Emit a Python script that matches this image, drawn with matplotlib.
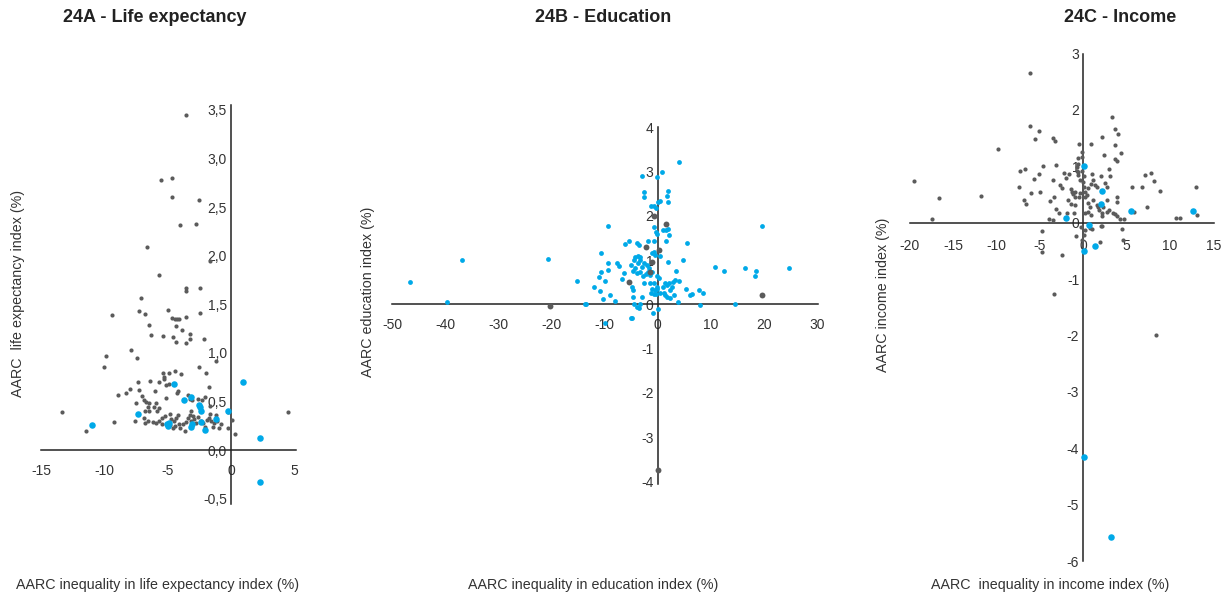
import matplotlib
matplotlib.use("Agg")
import matplotlib.pyplot as plt
import numpy as np

plt.rcParams['font.family'] = ['Liberation Sans', 'DejaVu Sans']
plt.rcParams['axes.unicode_minus'] = False

GRAY = '#5b5b5b'
BLUE = '#00a9e8'

# 24A - life expectancy: (AARC inequality, AARC index)
life_gray = np.array([
    (-3.55, 3.45), (-5.55, 2.78), (-4.63, 2.80), (-4.66, 2.60), (-2.53, 2.57), (-4.03, 2.32),
    (-2.76, 2.33), (-6.66, 2.09), (-1.66, 1.94), (-5.71, 1.80), (-3.55, 1.67), (-3.55, 1.64),
    (-2.42, 1.67), (-7.10, 1.56), (-9.42, 1.39), (-7.26, 1.43), (-6.79, 1.40), (-4.97, 1.44),
    (-4.66, 1.36), (-4.45, 1.35), (-4.25, 1.35), (-4.13, 1.35), (-3.55, 1.37), (-2.45, 1.41),
    (-6.45, 1.29), (-4.34, 1.28), (-3.90, 1.23), (-6.30, 1.18), (-5.34, 1.17), (-4.55, 1.16),
    (-3.20, 1.19), (-3.22, 1.14), (-4.37, 1.11), (-3.55, 1.10), (-2.13, 1.14), (-7.87, 1.03),
    (-7.42, 0.95), (-9.90, 0.97), (-10.05, 0.85), (-1.16, 0.92), (-2.50, 0.85), (-1.95, 0.79),
    (-5.33, 0.79), (-4.93, 0.79), (-4.41, 0.81), (-3.96, 0.78), (-5.28, 0.75), (-5.28, 0.73),
    (-7.34, 0.70), (-6.36, 0.71), (-5.70, 0.70), (-5.15, 0.67), (-4.93, 0.68), (-1.74, 0.65),
    (-7.97, 0.63), (-8.28, 0.59), (-8.92, 0.57), (-7.23, 0.62), (-6.04, 0.61), (-4.20, 0.61),
    (-4.28, 0.59), (-7.04, 0.56), (-6.90, 0.51), (-6.70, 0.49), (-6.44, 0.48), (-7.47, 0.48),
    (-5.91, 0.48), (-5.15, 0.54), (-3.40, 0.57), (-3.25, 0.53), (-3.06, 0.51), (-2.61, 0.53),
    (-2.32, 0.51), (-2.03, 0.55), (-6.52, 0.44), (-6.10, 0.44), (-5.67, 0.43), (-6.78, 0.40),
    (-6.46, 0.40), (-5.86, 0.40), (-3.19, 0.40), (-1.69, 0.45), (-1.64, 0.37), (-1.19, 0.36),
    (-0.26, 0.39), (-13.35, 0.39), (-9.23, 0.29), (-11.48, 0.20), (-7.57, 0.30), (-6.90, 0.33),
    (-6.80, 0.28), (-6.55, 0.30), (-6.15, 0.29), (-5.90, 0.28), (-5.70, 0.30), (-5.48, 0.33),
    (-5.18, 0.35), (-4.78, 0.37), (-4.73, 0.32), (-4.47, 0.30), (-4.33, 0.33), (-4.15, 0.36),
    (-4.07, 0.27), (-3.76, 0.27), (-3.55, 0.29), (-3.42, 0.33), (-3.24, 0.36), (-3.03, 0.35),
    (-2.90, 0.32), (-2.77, 0.28), (-4.78, 0.26), (-4.60, 0.23), (-4.39, 0.25), (-3.99, 0.23),
    (-3.67, 0.20), (-2.40, 0.30), (-2.19, 0.28), (-1.87, 0.31), (-1.74, 0.33), (-1.55, 0.30),
    (-1.34, 0.28), (-1.08, 0.30), (-0.82, 0.27), (-0.92, 0.23), (-0.26, 0.23), (0.08, 0.31),
    (0.34, 0.16), (4.49, 0.39), (-5.45, 0.27), (-2.05, 0.24), (-1.45, 0.24), (-3.15, 0.30),
    (-2.60, 0.34),
])
life_blue = np.array([
    (-4.50, 0.68), (0.97, 0.70), (-3.74, 0.52), (-3.12, 0.55), (-2.56, 0.46), (-2.45, 0.44),
    (-2.35, 0.40), (-0.22, 0.40), (-7.32, 0.37), (-11.0, 0.26), (-1.16, 0.32), (-2.40, 0.29),
    (-5.05, 0.27), (-4.90, 0.28), (-4.95, 0.25), (-3.05, 0.27), (-3.15, 0.24), (-2.05, 0.21),
    (2.25, 0.12), (2.32, -0.33),
])

# 24B - education
edu_blue = np.array([
    (-46.7, 0.50), (-39.8, 0.06), (-36.9, 0.99), (-20.7, 1.03), (-15.2, 0.53), (-13.8, 0.01),
    (-12.1, 0.38), (-10.9, 0.30), (-10.4, 0.11), (-11.1, 0.61), (-10.7, 0.72), (-10.8, 1.16),
    (-9.4, 1.76), (-9.4, 0.93), (-9.4, 0.78), (-9.9, 0.53), (-9.1, 0.20), (-8.1, 0.08),
    (-7.6, 0.94), (-7.4, 0.87), (-6.8, 0.58), (-6.4, 0.70), (-6.2, 1.36), (-5.4, 1.42),
    (-4.9, 0.40), (-4.6, 0.32), (-5.0, -0.30), (-9.9, -0.42), (-13.5, 0.01),
    (3.95, 3.21), (0.8, 2.99), (-2.9, 2.89), (-0.1, 2.87), (-2.5, 2.54), (-2.5, 2.43),
    (0.4, 2.34), (0.1, 2.32), (2.0, 2.55), (1.7, 2.45), (1.85, 2.31), (-1.2, 2.22),
    (-0.7, 2.22), (-0.3, 2.17), (-0.7, 1.74), (-0.3, 1.64), (-0.1, 1.58), (0.9, 1.67),
    (1.5, 1.68), (1.85, 1.70), (2.2, 1.56), (1.5, 1.42), (5.6, 1.38), (-3.9, 1.38),
    (-3.5, 1.34), (-1.9, 1.44), (-0.8, 1.42), (-1.1, 1.15), (-0.7, 1.19), (-0.5, 1.12),
    (0.4, 1.09), (4.7, 1.00), (1.9, 0.96), (3.5, 0.76), (10.8, 0.84),
    (-5.1, 0.89), (-4.5, 1.00), (-4.2, 1.06), (-3.8, 1.09), (-3.4, 1.08), (-3.3, 1.00),
    (-3.8, 0.93), (-4.2, 0.81), (-4.6, 0.76), (-4.0, 0.70), (-3.4, 0.74), (-2.9, 0.85),
    (-2.5, 0.93), (-2.0, 0.89), (-1.7, 0.81), (-1.9, 0.74), (-2.3, 0.69), (-2.7, 0.64),
    (-1.4, 0.66), (-1.0, 0.74), (-4.6, 0.17), (-4.4, 0.00), (-4.0, -0.05), (-3.6, -0.08),
    (-3.3, 0.01), (-3.0, 0.16), (-4.9, -0.30), (-2.5, 0.47), (-1.5, 0.49), (-1.3, 0.25),
    (-0.8, 0.47), (-1.0, 0.34), (-0.5, 0.32), (-0.2, 0.34), (-0.1, 0.40), (-0.2, 0.63),
    (0.2, 0.59), (-0.7, 0.23), (-0.4, 0.23), (-0.9, -0.19), (0.0, -0.10), (0.4, 0.26),
    (0.9, 0.38), (1.2, 0.25), (1.4, 0.21), (1.8, 0.44), (2.3, 0.32), (1.8, 0.17),
    (2.8, 0.50), (3.3, 0.54), (4.0, 0.53), (2.7, 0.38), (3.1, 0.21), (1.4, 0.49),
    (2.1, 0.47), (3.8, 0.06), (2.4, 0.14), (5.3, 0.35), (6.1, 0.20), (6.4, 0.23),
    (7.7, 0.32), (8.5, 0.25), (8.0, -0.02), (12.5, 0.75), (14.5, 0.01), (16.4, 0.81),
    (18.4, 0.63), (18.6, 0.75), (19.7, 1.76), (24.8, 0.81),
])
edu_gray = np.array([
    (-20.3, -0.03), (19.7, 0.20), (0.0, -3.74), (-5.5, 0.50), (-2.2, 1.29), (-0.7, 2.00),
    (1.5, 1.81), (0.2, 1.23), (-1.0, 0.95), (-1.4, 0.72),
])

# 24C - income
inc_gray = np.array([
    (-19.5, 0.74), (-17.4, 0.06), (-16.6, 0.44), (-11.8, 0.48), (-9.8, 1.30), (-6.1, 2.66),
    (-6.2, 1.71), (-5.1, 1.62), (-5.6, 1.48), (-3.5, 1.51), (-3.3, 1.45), (-3.2, 1.03),
    (-6.7, 0.96), (-7.3, 0.92), (-4.6, 1.01), (-5.1, 0.86), (-5.7, 0.77), (-7.4, 0.64),
    (-6.0, 0.53), (-5.0, 0.54), (-6.9, 0.40), (-6.6, 0.34), (-3.8, 0.38), (-3.4, 0.45),
    (-3.2, 0.24), (-2.8, 0.18), (-4.0, 0.06), (-3.5, 0.05), (-4.8, -0.14), (-4.8, -0.52),
    (-2.5, -0.57), (-3.4, -1.27), (-3.5, 0.76), (-2.7, 0.66), (-2.5, 0.62), (-2.2, 0.89),
    (-2.0, 0.80), (-1.7, 0.86), (-1.35, 0.55), (-1.15, 0.51), (-1.0, 0.54), (-0.96, 0.46),
    (-1.73, 0.40), (-1.42, 0.34), (-0.96, 0.32), (-1.85, 0.17), (-1.08, 0.18), (-0.5, 1.39),
    (-0.6, 1.15), (-0.1, 1.25), (-0.1, 1.16), (-0.7, 0.99), (-0.58, 0.90), (-0.15, 0.92),
    (-0.65, 0.84), (-0.38, 0.76), (0.08, 0.64), (0.19, 0.55), (0.38, 0.49), (0.9, 1.40),
    (1.0, 0.86), (1.08, 0.76), (0.85, 0.69), (0.58, 0.61), (1.35, 0.66), (1.6, 0.63),
    (-0.38, 0.52), (-0.46, 0.45), (0.23, 0.46), (0.58, 0.35), (0.77, 0.27), (0.58, 0.19),
    (0.19, 0.17), (0.88, 0.14), (1.15, 0.41), (1.54, 0.31), (1.73, 0.28), (1.85, 0.22),
    (2.1, 0.17), (-0.8, -0.24), (-0.3, -0.07), (0.08, -0.22), (-0.2, -0.30), (0.2, -0.13),
    (0.77, -0.09), (1.0, -0.12), (2.0, -0.05), (2.2, -0.06), (1.9, -0.34), (2.1, 1.52),
    (2.4, 1.20), (2.08, 0.82), (2.5, 0.71), (2.7, 0.64), (3.08, 0.82), (2.7, 0.40),
    (2.3, 0.28), (2.2, 0.12), (2.7, 0.19), (3.0, 0.22), (3.4, 0.17), (3.6, 0.15),
    (3.9, 0.11), (4.2, 0.06), (4.7, 0.06), (3.35, 1.87), (3.6, 1.67), (4.0, 1.58),
    (3.6, 1.38), (3.6, 1.13), (3.9, 1.10), (4.3, 1.23), (3.0, 0.95), (3.9, 0.46),
    (3.9, 0.37), (4.5, -0.11), (4.6, -0.31), (5.65, 0.64), (5.9, 0.19), (7.1, 0.84),
    (7.8, 0.89), (6.8, 0.64), (7.4, 0.28), (8.2, 0.74), (8.8, 0.56), (10.7, 0.08),
    (11.2, 0.08), (13.0, 0.63), (13.1, 0.14), (8.4, -1.99), (-0.65, 1.04), (-0.77, 0.92),
    (0.04, 0.83), (0.0, 0.73), (-1.46, 0.59),
])
inc_blue = np.array([
    (0.08, 1.00), (2.2, 0.56), (2.0, 0.34), (5.5, 0.21), (12.6, 0.20), (-2.0, 0.09),
    (0.6, -0.04), (1.4, -0.41), (0.04, -0.51), (0.08, -4.16), (3.2, -5.57),
])

W, H = 1225, 599
fig = plt.figure(figsize=(W / 100, H / 100), dpi=100)


def make_axes(left, top, right, bottom, xlim, ylim):
    ax = fig.add_axes([left / W, (H - bottom) / H, (right - left) / W, (bottom - top) / H])
    ax.set_xlim(*xlim)
    ax.set_ylim(*ylim)
    for side in ['top', 'right']:
        ax.spines[side].set_visible(False)
    for side in ['left', 'bottom']:
        ax.spines[side].set_position(('data', 0))
        ax.spines[side].set_color('#222222')
        ax.spines[side].set_linewidth(1.1)
    ax.tick_params(length=0, labelsize=10, colors='#333333')
    ax.patch.set_alpha(0)
    return ax


# panel A
axA = make_axes(41, 105, 296, 503.5, (-15, 5.13), (-0.55, 3.55))
axA.scatter(life_gray[:, 0], life_gray[:, 1], s=9, color=GRAY, linewidths=0, zorder=3)
axA.scatter(life_blue[:, 0], life_blue[:, 1], s=22, color=BLUE, linewidths=0, zorder=4)
axA.set_xticks([-15, -10, -5, 0, 5])
yt = np.arange(-0.5, 3.51, 0.5)
axA.set_yticks(yt)
axA.set_yticklabels([f'{v:.1f}'.replace('.', ',') for v in yt])
axA.tick_params(axis='x', pad=10)
axA.tick_params(axis='y', pad=3)

# panel B
axB = make_axes(391.7, 127.3, 817.8, 483.5, (-50.2, 30.2), (-4.05, 4.0))
axB.scatter(edu_blue[:, 0], edu_blue[:, 1], s=12, color=BLUE, linewidths=0, zorder=3)
axB.scatter(edu_gray[:, 0], edu_gray[:, 1], s=18, color=GRAY, linewidths=0, zorder=4)
axB.set_xticks(range(-50, 31, 10))
axB.set_yticks(range(-4, 5))
axB.tick_params(axis='x', pad=10)
axB.tick_params(axis='y', pad=3)

# panel C
axC = make_axes(909.5, 53.5, 1213.8, 561.1, (-20.05, 15.05), (-6.0, 3.0))
axC.scatter(inc_gray[:, 0], inc_gray[:, 1], s=9, color=GRAY, linewidths=0, zorder=3)
axC.scatter(inc_blue[:, 0], inc_blue[:, 1], s=22, color=BLUE, linewidths=0, zorder=4)
axC.set_xticks(range(-20, 16, 5))
axC.set_yticks(range(-6, 4))
axC.tick_params(axis='x', pad=12)
axC.tick_params(axis='y', pad=3)

title_kw = dict(fontsize=13, fontweight='bold', color='#222222', ha='center', va='center')
fig.text(155 / W, 1 - 17 / H, '24A - Life expectancy', **title_kw)
fig.text(603 / W, 1 - 17 / H, '24B - Education', **title_kw)
fig.text(1120 / W, 1 - 17 / H, '24C - Income', **title_kw)

lab_kw = dict(fontsize=10.3, color='#333333', ha='center', va='center')
fig.text(158 / W, 1 - 585 / H, 'AARC inequality in life expectancy index (%)', **lab_kw)
fig.text(593 / W, 1 - 585 / H, 'AARC inequality in education index (%)', **lab_kw)
fig.text(1050 / W, 1 - 585 / H, 'AARC  inequality in income index (%)', **lab_kw)
fig.text(18 / W, 1 - 293 / H, 'AARC  life expectancy index (%)', rotation=90, **lab_kw)
fig.text(368 / W, 1 - 292 / H, 'AARC education index (%)', rotation=90, **lab_kw)
fig.text(883 / W, 1 - 295 / H, 'AARC income index (%)', rotation=90, **lab_kw)

fig.savefig('out.png', dpi=100)
